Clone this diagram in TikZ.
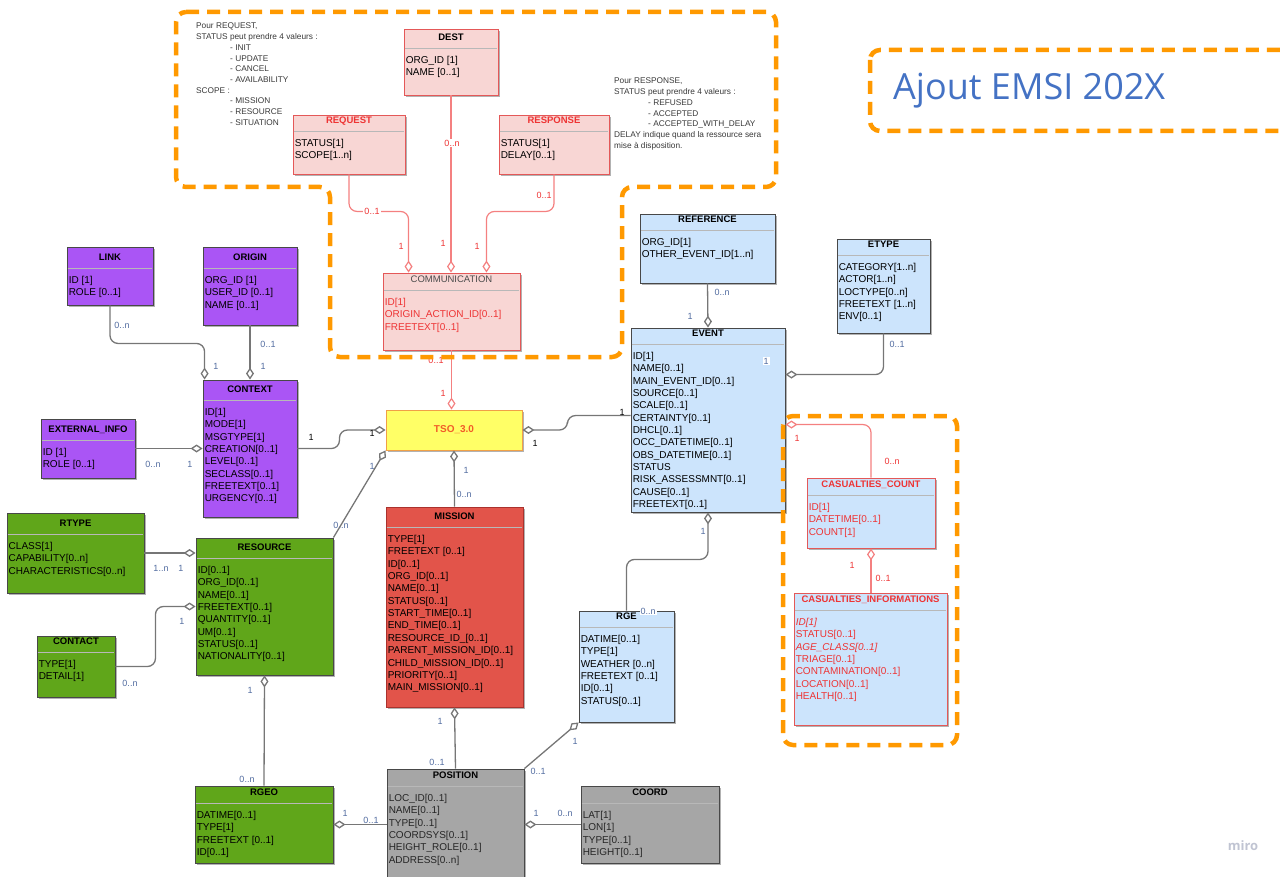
\documentclass[tikz,border=0pt]{standalone}
\usepackage{fontspec}
\setmainfont{Liberation Sans}
\newfontfamily\bannerfont{Open Sans}
\usepackage{xcolor}
\usepackage{tikz}
\usetikzlibrary{arrows.meta,positioning,calc,shadows}
\definecolor{purple1}{RGB}{170,85,245}
\definecolor{green1}{RGB}{96,166,26}
\definecolor{lightblue}{RGB}{204,228,252}
\definecolor{pink1}{RGB}{248,214,212}
\definecolor{red1}{RGB}{228,88,88}
\definecolor{redtext}{RGB}{238,52,52}
\definecolor{mission1}{RGB}{226,84,74}
\definecolor{mission2}{RGB}{170,50,45}
\definecolor{gray1}{RGB}{166,166,166}
\definecolor{yellow1}{RGB}{255,255,102}
\definecolor{orange1}{RGB}{255,153,0}
\definecolor{orange2}{RGB}{240,160,70}
\definecolor{tsotext}{RGB}{242,92,40}
\definecolor{boxline}{RGB}{72,72,72}
\definecolor{conn}{RGB}{118,118,118}
\definecolor{connred}{RGB}{244,128,128}
\definecolor{multblue}{RGB}{82,108,160}
\definecolor{bannerblue}{RGB}{68,114,196}
\definecolor{mirogray}{RGB}{192,196,210}
\tikzset{
  umlbox/.style={rectangle, draw=boxline, line width=0.9pt, inner sep=0pt,
    drop shadow={shadow xshift=2pt, shadow yshift=-2pt, opacity=0.3, fill=black}},
  purplebox/.style={umlbox, fill=purple1},
  greenbox/.style={umlbox, fill=green1},
  bluebox/.style={umlbox, fill=lightblue},
  casbox/.style={umlbox, fill=lightblue, draw=red1},
  casbox attr/.style={text=redtext},
  casbox title/.style={text=redtext},
  pinkbox/.style={umlbox, fill=pink1, draw=red1},
  reqbox/.style={pinkbox},
  reqbox title/.style={text=redtext},
  combox/.style={pinkbox},
  combox attr/.style={text=redtext},
  combox title/.style={text=black!70, font=\fontsize{9.5}{11}\selectfont},
  missionbox/.style={umlbox, fill=mission1, draw=mission2},
  graybox/.style={umlbox, fill=gray1},
  graybox attr/.style={text=black!85},
  tsobox/.style={umlbox, fill=yellow1, draw=orange2, minimum width=136pt, minimum height=40pt,
    font=\fontsize{10}{12}\selectfont\bfseries, text=tsotext},
  sepline/.style={draw=black!28, line width=1.3pt},
  classtitle/.style={anchor=base, inner sep=0pt, font=\fontsize{9.5}{11}\selectfont\bfseries},
  classattr/.style={anchor=north west, inner sep=0pt, align=left, font=\fontsize{10}{12.35}\selectfont},
  note/.style={anchor=north west, inner sep=0pt, align=left, text=black!78,
    font=\fontsize{8.3}{10.7}\selectfont},
  assoc/.style={draw=conn, line width=1.3pt, rounded corners=8pt},
  redassoc/.style={draw=connred, line width=1.2pt, rounded corners=8pt},
  aggstart/.style={{Diamond[fill=white,length=12pt,width=8pt]}-},
  aggend/.style={-{Diamond[fill=white,length=12pt,width=8pt]}},
  mult/.style={inner sep=1pt, text=multblue, font=\fontsize{9}{10}\selectfont},
  multred/.style={mult, text=redtext},
  multblack/.style={mult, text=black},
  multw/.style={mult, fill=white},
  emsiframe/.style={draw=orange1, line width=4.5pt, dash pattern=on 13pt off 8pt, rounded corners=10pt},
  banner/.style={anchor=west, inner sep=0pt, text=bannerblue, font=\bannerfont\fontsize{36}{40}\selectfont}
}
% name, box style, x, y, width, height, header height, title, attributes
\newcommand{\umlclass}[9]{%
  \node[#2, minimum width=#5pt, minimum height=#6pt] (#1) at (#3+#5/2,#4+#6/2) {};
  \draw[sepline] ($(#1.north west)+(1,#7)$) -- ($(#1.north east)+(-1,#7)$);
  \node[classtitle, #2 title/.try] (#1-title) at ($(#1.north)+(0,#7-8)$) {#8};
  \node[classattr, #2 attr/.try] (#1-attr) at ($(#1.north west)+(2,#7+7.5)$) {#9};
}

\begin{document}
\begin{tikzpicture}[x=1pt,y=-1pt]
\useasboundingbox (0,0) rectangle (1285,877);
\clip (0,0) rectangle (1285,877);

\umlclass{dst}{pinkbox}{404}{29}{94}{66}{20}{DEST}{ORG\_ID [1]\\NAME [0..1]}
\umlclass{req}{reqbox}{293}{115}{112}{59}{17}{REQUEST}{STATUS[1]\\SCOPE[1..n]}
\umlclass{rsp}{reqbox}{499}{115}{110}{59}{17}{RESPONSE}{STATUS[1]\\DELAY[0..1]}
\umlclass{com}{combox}{383}{273}{137}{77}{18}{COMMUNICATION}{ID[1]\\ORIGIN\_ACTION\_ID[0..1]\\FREETEXT[0..1]}
\umlclass{lnk}{purplebox}{67}{247}{86}{58}{22}{LINK}{ID [1]\\ROLE [0..1]}
\umlclass{org}{purplebox}{203}{247}{94}{78}{22}{ORIGIN}{ORG\_ID [1]\\USER\_ID [0..1]\\NAME [0..1]}
\umlclass{ctx}{purplebox}{203}{380}{94}{137}{21}{CONTEXT}{ID[1]\\MODE[1]\\MSGTYPE[1]\\CREATION[0..1]\\LEVEL[0..1]\\SECLASS[0..1]\\FREETEXT[0..1]\\URGENCY[0..1]}
\umlclass{ext}{purplebox}{41}{419}{94}{59}{22}{EXTERNAL\_INFO}{ID [1]\\ROLE [0..1]}
\umlclass{ref}{bluebox}{640}{214}{135}{69}{17}{REFERENCE}{ORG\_ID[1]\\OTHER\_EVENT\_ID[1..n]}
\umlclass{evt}{bluebox}{631}{328}{154}{184}{17}{EVENT}{ID[1]\\NAME[0..1]\\MAIN\_EVENT\_ID[0..1]\\SOURCE[0..1]\\SCALE[0..1]\\CERTAINTY[0..1]\\DHCL[0..1]\\OCC\_DATETIME[0..1]\\OBS\_DATETIME[0..1]\\STATUS\\RISK\_ASSESSMNT[0..1]\\CAUSE[0..1]\\FREETEXT[0..1]}
\umlclass{ety}{bluebox}{837}{239}{93}{94}{17}{ETYPE}{CATEGORY[1..n]\\ACTOR[1..n]\\LOCTYPE[0..n]\\FREETEXT [1..n]\\ENV[0..1]}
\umlclass{cc}{casbox}{807}{478}{128}{70}{18}{CASUALTIES\_COUNT}{ID[1]\\DATETIME[0..1]\\COUNT[1]}
\umlclass{ci}{casbox}{794}{593}{153}{132}{18}{CASUALTIES\_INFORMATIONS}{\textit{ID[1]}\\STATUS[0..1]\\\textit{AGE\_CLASS[0..1]}\\TRIAGE[0..1]\\CONTAMINATION[0..1]\\LOCATION[0..1]\\HEALTH[0..1]}
\umlclass{rty}{greenbox}{7}{513}{137}{80}{22}{RTYPE}{CLASS[1]\\CAPABILITY[0..n]\\CHARACTERISTICS[0..n]}
\umlclass{res}{greenbox}{196}{538}{137}{137}{21}{RESOURCE}{ID[0..1]\\ORG\_ID[0..1]\\NAME[0..1]\\FREETEXT[0..1]\\QUANTITY[0..1]\\UM[0..1]\\STATUS[0..1]\\NATIONALITY[0..1]}
\umlclass{cnt}{greenbox}{37}{636}{78}{61}{17}{CONTACT}{TYPE[1]\\DETAIL[1]}
\umlclass{msn}{missionbox}{386}{507}{137}{200}{21}{MISSION}{TYPE[1]\\FREETEXT [0..1]\\ID[0..1]\\ORG\_ID[0..1]\\NAME[0..1]\\STATUS[0..1]\\START\_TIME[0..1]\\END\_TIME[0..1]\\RESOURCE\_ID\_[0..1]\\PARENT\_MISSION\_ID[0..1]\\CHILD\_MISSION\_ID[0..1]\\PRIORITY[0..1]\\MAIN\_MISSION[0..1]}
\umlclass{rge}{bluebox}{579}{611}{95}{111}{17}{RGE}{DATIME[0..1]\\TYPE[1]\\WEATHER [0..n]\\FREETEXT [0..1]\\ID[0..1]\\STATUS[0..1]}
\umlclass{pos}{graybox}{387}{769}{137}{130}{18}{POSITION}{LOC\_ID[0..1]\\NAME[0..1]\\TYPE[0..1]\\COORDSYS[0..1]\\HEIGHT\_ROLE[0..1]\\ADDRESS[0..n]}
\umlclass{rgeo}{greenbox}{195}{786}{138}{77}{18}{RGEO}{DATIME[0..1]\\TYPE[1]\\FREETEXT [0..1]\\ID[0..1]}
\umlclass{crd}{graybox}{581}{786}{138}{77}{18}{COORD}{LAT[1]\\LON[1]\\TYPE[0..1]\\HEIGHT[0..1]}
\node[tsobox] (tso) at (454,430) {TSO\_3.0};

\draw[redassoc, aggend] (req.south) -- ++(0,37) -| ($(com.north west)+(26,0)$);
\draw[redassoc, aggend] (dst.south) -- (dst.south |- com.north);
\draw[redassoc, aggend] (rsp.south) -- ++(0,37) -| ($(com.north east)+(-34,0)$);
\draw[redassoc, aggend] (com.south) -- (com.south |- tso.north);
\draw[assoc, aggend] (lnk.south) -- ++(0,38) -| ($(ctx.north west)+(2,0)$);
\draw[assoc, aggend] (org.south) -- (ctx.north);
\draw[assoc, aggend] (ext.east) -- (ctx.west |- ext.east);
\draw[assoc, aggend] (ctx.east) -- ++(42,0) |- (tso.west);
\draw[assoc, aggstart] (tso.east) -- ++(45,0) |- ($(evt.north west)+(0,88)$);
\draw[assoc, aggstart] (tso.south) -- (msn.north);
\draw[assoc, aggstart] (tso.south west) -- (res.north east);
\draw[assoc, aggend] (ref.south) -- (evt.north);
\draw[assoc, aggend] (ety.south) |- ($(evt.north east)+(0,47)$);
\draw[redassoc, aggstart] ($(evt.north east)+(0,97)$) -| (cc.north);
\draw[redassoc, aggstart] (cc.south) -- (cc.south |- ci.north);
\draw[assoc, aggstart] (evt.south) -- ++(0,47) -| (rge.north);
\draw[assoc, aggstart] (rge.south west) -- (pos.north east);
\draw[assoc, aggstart] (msn.south) -- (pos.north);
\draw[assoc, aggstart] (res.south) -- (rgeo.north);
\draw[assoc, aggend] (rty.east) -- (res.west |- rty.east);
\draw[assoc, aggend] (cnt.east) -- ++(40,0) |- (res.west);
\draw[assoc, aggstart] (rgeo.east) -- (pos.west |- rgeo.east);
\draw[assoc, aggstart] (pos.east |- crd.west) -- (crd.west);

\node[mult] (m1) at (122,325) {0..n};
\node[mult] (m2) at (216,366) {1};
\node[mult] (m3) at (268,344) {0..1};
\node[mult] (m4) at (263,366) {1};
\node[mult] (m5) at (153,464) {0..n};
\node[mult] (m6) at (190,464) {1};
\node[multblack] (m7) at (311,437) {1};
\node[multblack] (m8) at (372,433) {1};
\node[multred, fill=white] (m9) at (372,211) {0..1};
\node[multred] (m10) at (401,246) {1};
\node[multred, fill=white] (m11) at (452,143) {0..n};
\node[multred] (m12) at (443,243) {1};
\node[multred] (m13) at (544,195) {0..1};
\node[multred] (m14) at (477,246) {1};
\node[multred] (m15) at (436,360) {0..1};
\node[multred] (m16) at (443,393) {1};
\node[multblack] (m17) at (535,443) {1};
\node[multblack] (m18) at (622,412) {1};
\node[mult] (m19) at (466,470) {1};
\node[mult] (m20) at (464,494) {0..n};
\node[mult] (m21) at (372,466) {1};
\node[mult] (m22) at (341,525) {0..n};
\node[mult] (m23) at (722,292) {0..n};
\node[mult] (m24) at (690,316) {1};
\node[mult] (m25) at (897,344) {0..1};
\node[multw] (m26) at (766,361) {1};
\node[multred] (m27) at (797,438) {1};
\node[multred] (m28) at (892,461) {0..n};
\node[multred] (m29) at (852,565) {1};
\node[multred] (m30) at (883,578) {0..1};
\node[mult] (m31) at (703,531) {1};
\node[multw] (m32) at (648,611) {0..n};
\node[mult] (m33) at (575,741) {1};
\node[mult] (m34) at (538,771) {0..1};
\node[mult] (m35) at (440,721) {1};
\node[mult] (m36) at (437,762) {0..1};
\node[mult] (m37) at (250,690) {1};
\node[multw] (m38) at (247,779) {0..n};
\node[mult] (m39) at (161,568) {1..n};
\node[mult] (m40) at (181,568) {1};
\node[mult] (m41) at (130,683) {0..n};
\node[mult] (m42) at (182,621) {1};
\node[mult] (m43) at (345,813) {1};
\node[multw] (m44) at (371,820) {0..1};
\node[mult] (m45) at (536,813) {1};
\node[mult] (m46) at (565,813) {0..n};

\node[note] (reqnote) at (196,23) {Pour REQUEST,\\STATUS peut prendre 4 valeurs :\\\hspace*{34pt}- INIT\\\hspace*{34pt}- UPDATE\\\hspace*{34pt}- CANCEL\\\hspace*{34pt}- AVAILABILITY\\SCOPE :\\\hspace*{34pt}- MISSION\\\hspace*{34pt}- RESOURCE\\\hspace*{34pt}- SITUATION};
\node[note] (rspnote) at (614,78) {Pour RESPONSE,\\STATUS peut prendre 4 valeurs :\\\hspace*{34pt}- REFUSED\\\hspace*{34pt}- ACCEPTED\\\hspace*{34pt}- ACCEPTED\_WITH\_DELAY\\DELAY indique quand la ressource sera\\mise à disposition.};

\draw[emsiframe] (176,12) -- (776,12) -- (776,187) -- (622,187) -- (622,357) -- (330,357) -- (330,187) -- (176,187) -- cycle;
\draw[emsiframe] (783,416) rectangle (957,745);
\draw[emsiframe] (870,50) rectangle (1310,131);
\node[banner] (ajout) at (893,91) {Ajout EMSI 202X};
\node[text=mirogray, font=\bannerfont\bfseries\fontsize{13}{13}\selectfont] (miro) at (1243,846) {miro};
\end{tikzpicture}
\end{document}
